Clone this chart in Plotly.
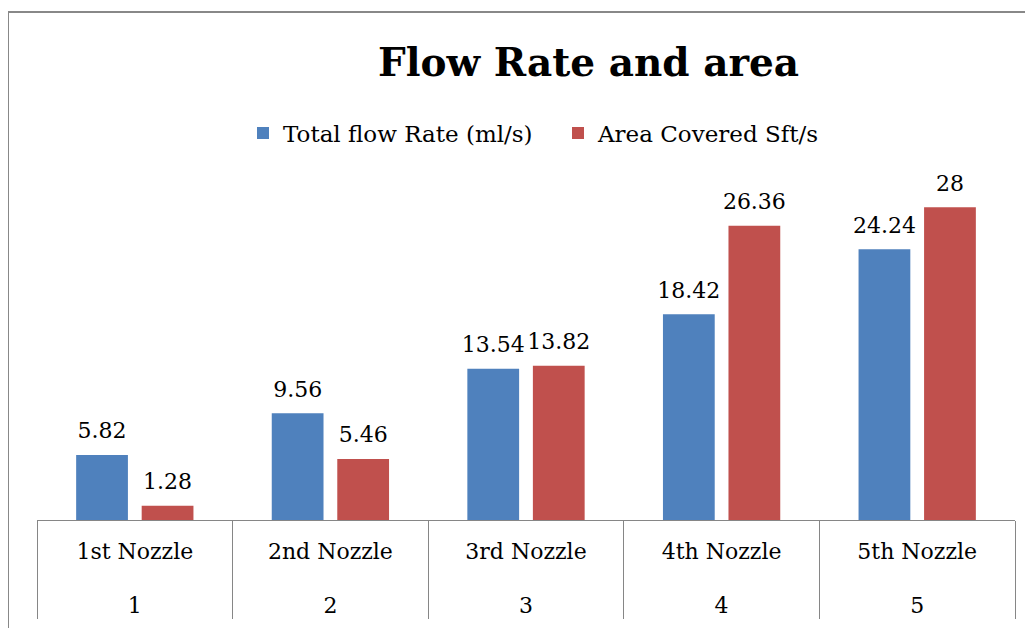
import plotly.graph_objects as go

nozzles = ["1st Nozzle", "2nd Nozzle", "3rd Nozzle", "4th Nozzle", "5th Nozzle"]
numbers = ["1", "2", "3", "4", "5"]
flow_rate = [5.82, 9.56, 13.54, 18.42, 24.24]
area_covered = [1.28, 5.46, 13.82, 26.36, 28]
series_names = ["Total flow Rate (ml/s)", "Area Covered Sft/s"]
colors = ["#4F81BD", "#C0504D"]

FONT = "DejaVu Serif"
OFF = 8  # page body margin
W, H = 1033 - OFF, 628 - OFF
# desired plot area in screenshot coords
X0, X1, Y0, Y1 = 37, 1015, 185, 520
L, T = X0 - OFF, Y0 - OFF
R, B = W - (X1 - OFF), H - (Y1 - OFF)
pw, ph = X1 - X0, Y1 - Y0

def px(x):
    return (x - X0) / pw

def py(y):
    return (Y1 - y) / ph

SP = "<span style='font-size:22px'>{}</span>"
x = [["<br>" + SP.format(n) for n in numbers], [SP.format(n) for n in nozzles]]
LBL = "<span style='font-size:22px'>{:g}</span><br>\u00a0"
fig = go.Figure()
for name, vals, c in zip(series_names, [flow_rate, area_covered], colors):
    fig.add_trace(go.Bar(
        x=x, y=vals, name=name,
        marker=dict(color=c, line=dict(width=0)),
        text=[LBL.format(v) for v in vals], textposition="outside",
        constraintext="none",
        textfont=dict(family=FONT, size=9, color="#000"),
        cliponaxis=False,
    ))

fig.update_layout(
    width=W, height=H,
    margin=dict(l=L, r=R, t=T, b=B, autoexpand=False),
    paper_bgcolor="white", plot_bgcolor="white",
    barmode="group", bargap=0.33, bargroupgap=0.21,
    title=dict(text="<b>Flow Rate and area</b>", x=px(591), xanchor="center",
               y=1 - (62 - OFF) / H, yanchor="middle",
               font=dict(family=FONT, size=39, color="#000")),
    legend=dict(orientation="h", x=px(558), xanchor="center", y=py(133), yanchor="middle",
                font=dict(family=FONT, size=23, color="#000"), itemwidth=30,
                entrywidth=270, traceorder="normal"),
    showlegend=True,
    xaxis=dict(type="multicategory", showline=True, linecolor="#868686", linewidth=1,
               showdividers=True, dividercolor="#868686", dividerwidth=1,
               ticklabelstandoff=7, automargin=False,
               tickfont=dict(family=FONT, size=26, color="#000"), ticks=""),
    yaxis=dict(range=[0, 30], visible=False, showgrid=False, zeroline=False, automargin=False),
    shapes=[
        dict(type="line", xref="paper", yref="paper", x0=px(8), x1=px(1045), y0=py(12), y1=py(12),
             line=dict(color="#888888", width=2)),
        dict(type="line", xref="paper", yref="paper", x0=px(8), x1=px(8), y0=py(12), y1=py(650),
             line=dict(color="#888888", width=2)),
    ],
)
fig.write_html("out.html")
